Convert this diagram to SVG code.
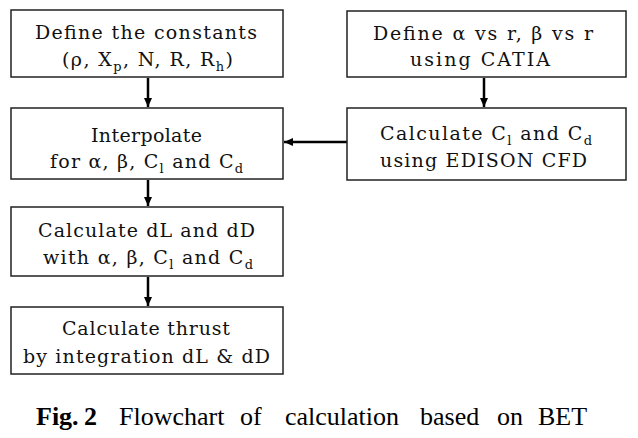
<svg xmlns="http://www.w3.org/2000/svg" width="638" height="438" viewBox="0 0 638 438">
<style>
.box{fill:#fff;stroke:#222;stroke-width:1.5}
.t{font-family:"DejaVu Serif","Liberation Serif",serif;font-size:19px;fill:#111}
.s{font-size:13px}
.c{font-family:"Liberation Serif","Times New Roman",serif;font-size:26px;fill:#000}
.b{font-weight:bold}
.conn{stroke:#000;stroke-width:2.5;fill:none}
</style>
<defs>
<marker id="ah" markerUnits="userSpaceOnUse" markerWidth="10" markerHeight="10" refX="9" refY="4" orient="auto">
<path d="M0,0 L9,4 L0,8 z" fill="#000"/>
</marker>
</defs>
<rect width="638" height="438" fill="#fff"/>
<g id="connectors">
<line class="conn" x1="148" y1="78" x2="148" y2="107" marker-end="url(#ah)"/>
<line class="conn" x1="484" y1="78" x2="484" y2="107" marker-end="url(#ah)"/>
<line class="conn" x1="347" y1="142" x2="284" y2="142" marker-end="url(#ah)"/>
<line class="conn" x1="148" y1="180" x2="148" y2="206" marker-end="url(#ah)"/>
<line class="conn" x1="148" y1="277" x2="148" y2="306" marker-end="url(#ah)"/>
</g>
<g id="n1">
<rect class="box" x="11" y="10" width="272" height="67"/>
<text class="t" x="35" y="39" textLength="222" lengthAdjust="spacing">Define the constants</text>
<text class="t" x="62" y="66" textLength="171" lengthAdjust="spacing">(ρ, X<tspan class="s" dy="5">p</tspan><tspan dy="-5">, N, R, R</tspan><tspan class="s" dy="5">h</tspan><tspan dy="-5">)</tspan></text>
</g>
<g id="n2">
<rect class="box" x="11" y="108" width="272" height="71"/>
<text class="t" x="91" y="142" textLength="111" lengthAdjust="spacing">Interpolate</text>
<text class="t" x="50" y="168" textLength="193" lengthAdjust="spacing">for α, β, C<tspan class="s" dy="5">l</tspan><tspan dy="-5"> and C</tspan><tspan class="s" dy="5">d</tspan></text>
</g>
<g id="n3">
<rect class="box" x="11" y="207" width="272" height="69"/>
<text class="t" x="38" y="237" textLength="217" lengthAdjust="spacing">Calculate dL and dD</text>
<text class="t" x="43" y="264" textLength="210" lengthAdjust="spacing">with α, β, C<tspan class="s" dy="5">l</tspan><tspan dy="-5"> and C</tspan><tspan class="s" dy="5">d</tspan></text>
</g>
<g id="n4">
<rect class="box" x="11" y="307" width="272" height="67"/>
<text class="t" x="62" y="335" textLength="168" lengthAdjust="spacing">Calculate thrust</text>
<text class="t" x="23" y="363" textLength="247" lengthAdjust="spacing">by integration dL &amp; dD</text>
</g>
<g id="n5">
<rect class="box" x="347" y="11" width="279" height="66"/>
<text class="t" x="373" y="40" textLength="220" lengthAdjust="spacing">Define α vs r, β vs r</text>
<text class="t" x="410" y="66" textLength="140" lengthAdjust="spacing">using CATIA</text>
</g>
<g id="n6">
<rect class="box" x="347" y="108" width="279" height="72"/>
<text class="t" x="380" y="140" textLength="212" lengthAdjust="spacing">Calculate C<tspan class="s" dy="5">l</tspan><tspan dy="-5"> and C</tspan><tspan class="s" dy="5">d</tspan></text>
<text class="t" x="380" y="167" textLength="207" lengthAdjust="spacing">using EDISON CFD</text>
</g>
<g id="caption">
<text class="c b" x="36" y="425">Fig.</text>
<text class="c b" x="84" y="425">2</text>
<text class="c" x="119" y="425">Flowchart</text>
<text class="c" x="240" y="425">of</text>
<text class="c" x="285" y="425">calculation</text>
<text class="c" x="420" y="425">based</text>
<text class="c" x="497" y="425">on</text>
<text class="c" x="538" y="425">BET</text>
</g>
</svg>
